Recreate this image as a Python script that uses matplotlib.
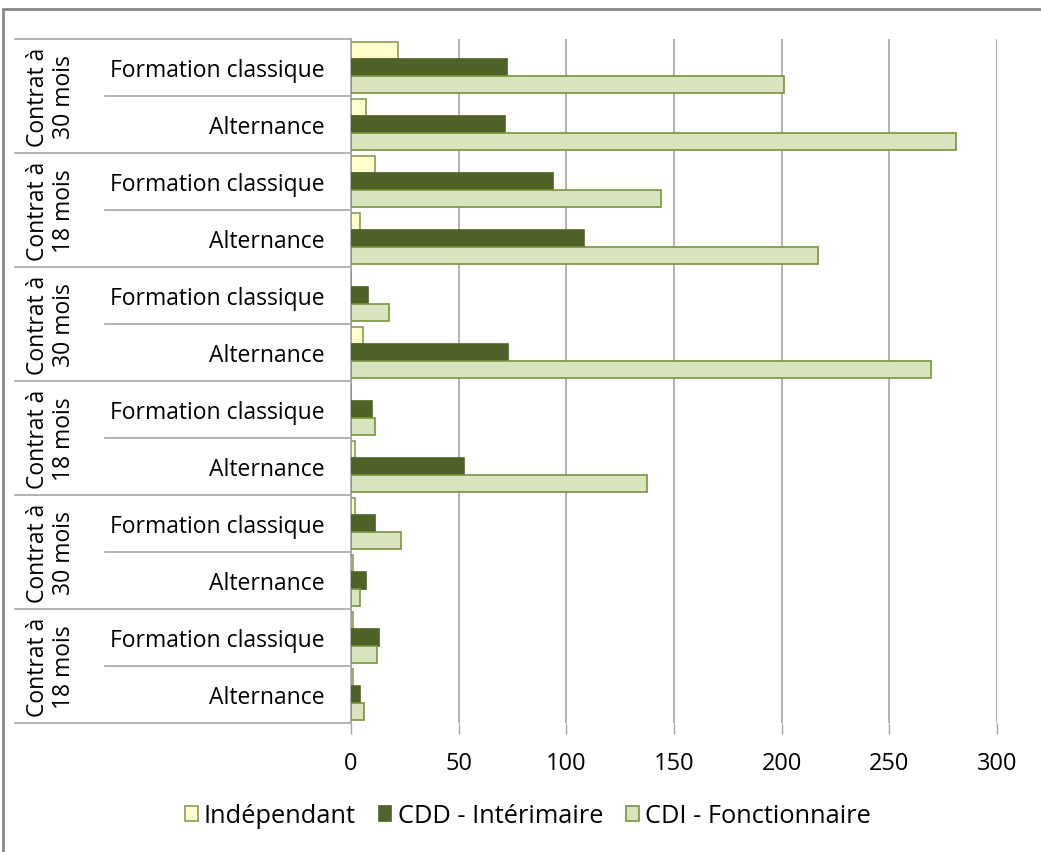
import matplotlib
matplotlib.use("Agg")
import matplotlib.pyplot as plt
import matplotlib.patches as mpatches
from matplotlib.transforms import blended_transform_factory
import numpy as np

plt.rcParams['font.family'] = ['Open Sans', 'DejaVu Sans']

groups = ["Contrat à\n30 mois", "Contrat à\n18 mois", "Contrat à\n30 mois",
          "Contrat à\n18 mois", "Contrat à\n30 mois", "Contrat à\n18 mois"]
subcats = ["Formation classique", "Alternance"]
series = ["Indépendant", "CDD - Intérimaire", "CDI - Fonctionnaire"]
# order: top to bottom, (group, subcat)
independant = [22, 7, 11, 4, 0, 5.5, 0, 2, 2, 1, 1, 1]
cdd = [72.5, 71.5, 94, 108, 8, 73, 9.7, 52.5, 11, 7, 12.8, 4]
cdi = [201, 281, 144, 217, 17.6, 269.5, 11, 137.3, 23, 4, 12.2, 6.2]
xticks = [0, 50, 100, 150, 200, 250, 300]

W, H = 1041, 853
fig = plt.figure(figsize=(W / 100, H / 100), dpi=100)
L, R, T, B = 351, 997, 40, 724
ax = fig.add_axes([L / W, 1 - B / H, (R - L) / W, (B - T) / H])

FS_SUB = 16.5
FS_GRP = 16.5
FS_TICK = 17
FS_LEG = 18.3
n = len(cdd)
y = np.arange(n)  # 0 at top
bh = 0.3
fills = ["#FFFFCC", "#4F6228", "#D7E4BD"]
edges = ["#8A9A5B", "#4F6228", "#77933C"]
for k, vals in enumerate([independant, cdd, cdi]):
    ax.barh(y + (k - 1) * bh, vals, height=bh, color=fills[k],
            edgecolor=edges[k], linewidth=1.2, label=series[k], zorder=3)

ax.set_ylim(n - 0.5, -0.5)
ax.set_xlim(0, 300)
ax.set_xticks(xticks)
ax.set_xticklabels([str(t) for t in xticks])
ax.tick_params(axis='x', length=8, width=1, color="#A6A6A6", labelsize=FS_TICK,
               pad=12, labelcolor="#000000", direction="out")
ax.tick_params(axis='y', left=False, labelleft=False)
ax.xaxis.grid(True, color="#A6A6A6", linewidth=1.2, zorder=0)
for s in ["top", "right", "bottom"]:
    ax.spines[s].set_visible(False)
ax.spines["left"].set_color("#A6A6A6")
ax.spines["left"].set_linewidth(1.2)

# category table
tr = blended_transform_factory(fig.transFigure, ax.transData)
line_col = "#A6A6A6"
for gi, g in enumerate(groups):
    top = gi * 2 - 0.5
    ax.plot([15 / W, L / W], [top, top], transform=tr, color=line_col,
            lw=1.2, clip_on=False)
    ax.plot([105 / W, L / W], [top + 1, top + 1], transform=tr, color=line_col,
            lw=1.2, clip_on=False)
    ax.text(51 / W, gi * 2 + 0.5, g, transform=tr, rotation=90, ha="center",
            va="center", fontsize=FS_GRP, linespacing=1.1, multialignment="center")
    for si, s in enumerate(subcats):
        ax.text(325 / W, gi * 2 + si + 0.05, s, transform=tr, ha="right",
                va="center", fontsize=FS_SUB)
ax.plot([15 / W, L / W], [n - 0.5, n - 0.5], transform=tr, color=line_col,
        lw=1.2, clip_on=False)

# legend
handles = [mpatches.Patch(facecolor=fills[k], edgecolor=edges[k], linewidth=1.2,
                          label=series[k]) for k in range(3)]
fig.legend(handles=handles, loc="center", bbox_to_anchor=(528 / W, 1 - 817 / H),
           ncol=3, frameon=False, fontsize=FS_LEG, handlelength=0.5,
           handleheight=0.5, handletextpad=0.25, columnspacing=0.9)

# outer frame
fig.patches.append(mpatches.Rectangle((3 / W, -0.01), 1.05, 1 - 10 / H + 0.01,
                                      transform=fig.transFigure, fill=False,
                                      edgecolor="#888888", linewidth=2))

fig.savefig("out.png", dpi=100)
